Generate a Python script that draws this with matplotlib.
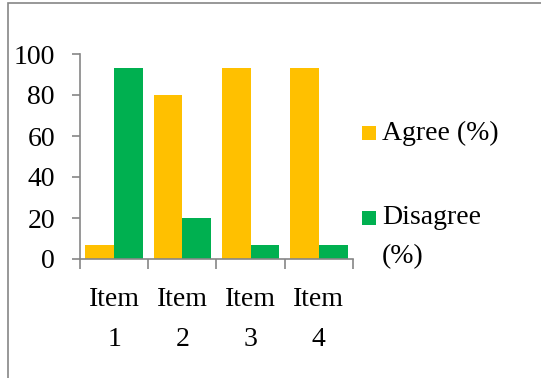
import matplotlib
matplotlib.use("Agg")
import matplotlib.pyplot as plt
import numpy as np
from matplotlib.patches import Rectangle

categories = ["Item\n1", "Item\n2", "Item\n3", "Item\n4"]
agree = [6.67, 80, 93.33, 93.33]
disagree = [93.33, 20, 6.67, 6.67]
series_labels = ["Agree (%)", "Disagree\n(%)"]
colors = ["#FFC000", "#00B050"]

plt.rcParams['font.family'] = ['Liberation Serif', 'DejaVu Serif']
FS = 20

fig = plt.figure(figsize=(5.41, 3.78), dpi=100)
ax = fig.add_axes([80/541, 1-259/378, (353-80)/541, (259-54)/378])

x = np.arange(len(categories))
w = 0.42
ax.bar(x - w/2, agree, w, color=colors[0], label=series_labels[0])
ax.bar(x + w/2, disagree, w, color=colors[1], label=series_labels[1])

ax.set_xlim(-0.5, len(categories)-0.5)
ax.set_ylim(0, 100)
ax.set_yticks([0, 20, 40, 60, 80, 100])
ax.set_xticks(x)
ax.set_xticklabels(categories, fontsize=FS, linespacing=1.8)
ax.tick_params(axis='x', length=0, pad=20)
ax.set_xticks(np.arange(-0.5, len(categories), 1), minor=True)
ax.tick_params(axis='x', which='minor', length=7, color='#868686', width=1.2)
ax.tick_params(axis='y', length=6, color='#868686', width=1.2, labelsize=FS, pad=12)
for s in ['top', 'right']:
    ax.spines[s].set_visible(False)
for s in ['left', 'bottom']:
    ax.spines[s].set_color('#868686')
    ax.spines[s].set_linewidth(1.2)

# legend drawn manually so the marker aligns with the first line of text
leg_y = [133, 218]
for lbl, col, yy in zip(series_labels, colors, leg_y):
    fig.patches.append(Rectangle((362/541, 1 - (yy + 7)/378), 14/541, 14/378,
                                 transform=fig.transFigure, facecolor=col, edgecolor='none'))
    fig.text(382/541, 1 - yy/378, lbl.split("\n")[0], fontsize=FS, va='center', ha='left')
    rest = lbl.split("\n")[1:]
    for i, r in enumerate(rest):
        fig.text(382/541, 1 - (yy + 39*(i+1))/378, r, fontsize=FS, va='center', ha='left')

fig.patches.append(Rectangle((8/541, -0.1), 1.2, 1 - 3/378 + 0.1, transform=fig.transFigure,
                             fill=False, edgecolor='#868686', linewidth=1.2))

fig.savefig("out.png", dpi=100)
